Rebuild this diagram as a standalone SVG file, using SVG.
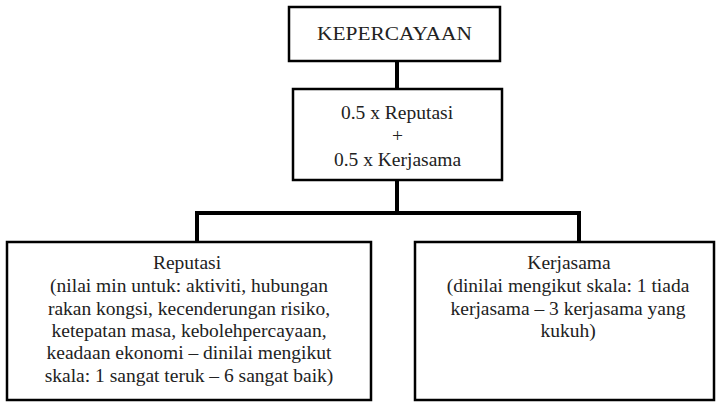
<svg xmlns="http://www.w3.org/2000/svg" width="716" height="404" viewBox="0 0 716 404">
<style>
.box{fill:#fff;stroke:#000;stroke-width:2.5}
.t{font-size:19.5px;fill:#222;text-anchor:middle}
.c{fill:none;stroke:#000;stroke-width:4}
</style>
<rect width="716" height="404" fill="#fff"/>
<g id="connectors">
<path class="c" d="M397 61V89"/>
<path class="c" d="M397 180V213M197 242V213H579V242"/>
</g>
<g font-family="Liberation Serif, DejaVu Serif, serif">
<g id="kepercayaan">
<rect class="box" x="289" y="7" width="211" height="54"/>
<text class="t" x="394.5" y="40" textLength="155" lengthAdjust="spacingAndGlyphs">KEPERCAYAAN</text>
</g>
<g id="formula">
<rect class="box" x="293" y="89" width="209" height="91"/>
<text class="t" x="397" y="119">0.5 x Reputasi</text>
<text class="t" x="397.5" y="142">+</text>
<text class="t" x="397.5" y="166">0.5 x Kerjasama</text>
</g>
<g id="reputasi">
<rect class="box" x="7" y="242" width="364" height="158"/>
<text class="t" x="187" y="269">Reputasi</text>
<text class="t" x="189" y="292">(nilai min untuk: aktiviti, hubungan</text>
<text class="t" x="189" y="315">rakan kongsi, kecenderungan risiko,</text>
<text class="t" x="189" y="337">ketepatan masa, kebolehpercayaan,</text>
<text class="t" x="189" y="359">keadaan ekonomi – dinilai mengikut</text>
<text class="t" x="189" y="382">skala: 1 sangat teruk – 6 sangat baik)</text>
</g>
<g id="kerjasama">
<rect class="box" x="415" y="242" width="299" height="158"/>
<text class="t" x="569" y="269">Kerjasama</text>
<text class="t" x="568" y="292">(dinilai mengikut skala: 1 tiada</text>
<text class="t" x="568" y="315">kerjasama – 3 kerjasama yang</text>
<text class="t" x="568" y="337">kukuh)</text>
</g>
</g>
</svg>
